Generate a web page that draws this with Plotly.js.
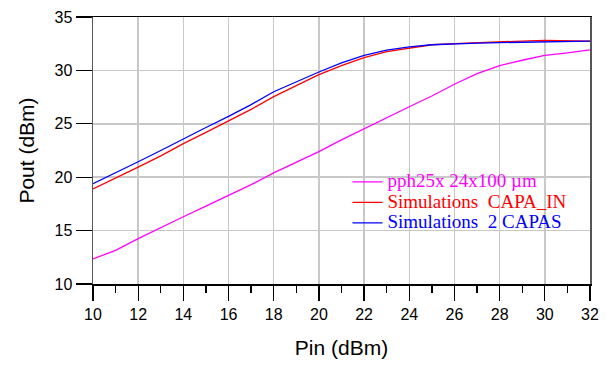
<!DOCTYPE html>
<html>
<head>
<meta charset="utf-8">
<script src="https://cdn.plot.ly/plotly-3.0.1.min.js"></script>
<style>html,body{margin:0;padding:0;background:#fff;}#chart{width:607px;height:365px;}</style>
</head>
<body>
<div id="chart"></div>
<script>
const pin = [10,11,12,13,14,15,16,17,18,19,20,21,22,23,24,25,26,27,28,29,30,31,32];
const poutMeasured = [12.35,13.15,14.25,15.3,16.3,17.3,18.3,19.3,20.4,21.4,22.4,23.5,24.55,25.6,26.6,27.6,28.7,29.7,30.45,30.95,31.4,31.65,31.92];
const poutCapaIn   = [18.9,19.9,20.95,22.0,23.15,24.2,25.25,26.35,27.55,28.6,29.6,30.45,31.2,31.75,32.1,32.4,32.5,32.6,32.7,32.75,32.8,32.75,32.75];
const pout2Capas   = [19.4,20.4,21.45,22.5,23.6,24.65,25.7,26.8,28.0,28.95,29.85,30.7,31.4,31.9,32.2,32.4,32.5,32.55,32.6,32.65,32.7,32.72,32.75];
const names = ['pph25x 24x100 µm', 'Simulations\u00a0\u00a0CAPA_IN', 'Simulations\u00a0\u00a02 CAPAS'];
const colors = ['#ff00ff', '#ff0000', '#0000ff'];
const series = [poutMeasured, poutCapaIn, pout2Capas];
const xTicks = [10,12,14,16,18,20,22,24,26,28,30,32];
const yTicks = [10,15,20,25,30,35];

const traces = series.map((ys, i) => ({
  x: pin, y: ys, type: 'scatter', mode: 'lines',
  name: '<span style="color:' + colors[i] + ';font-size:19px">' + names[i] + '</span>',
  line: {color: colors[i], width: 1.3}
}));

const layout = {
  width: 607, height: 365,
  margin: {l: 93, r: 17, t: 17, b: 81},
  paper_bgcolor: '#fff', plot_bgcolor: '#fff',
  showlegend: true,
  legend: {
    x: 0.512, y: 0.44, xanchor: 'left', yanchor: 'top',
    bgcolor: 'rgba(0,0,0,0)',
    font: {family: 'Liberation Serif, Times New Roman, serif', size: 13.5},
    tracegroupgap: 0, itemwidth: 30
  },
  xaxis: {
    range: [10, 32], tickvals: xTicks, ticktext: xTicks.map(String),
    showgrid: true, gridcolor: '#c8c8c8', gridwidth: 1.5,
    showline: true, linecolor: '#000', linewidth: 1.5, mirror: true,
    ticks: 'outside', ticklen: 15, tickcolor: '#000', tickwidth: 1.3,
    minor: {dtick: 1, tick0: 10, ticks: 'outside', ticklen: 7, tickcolor: '#000', tickwidth: 1.3, showgrid: false},
    tickfont: {family: 'Liberation Sans, Arial, sans-serif', size: 16, color: '#000'},
    title: {text: 'Pin (dBm)', font: {family: 'Liberation Sans, Arial, sans-serif', size: 21, color: '#000'}, standoff: 18},
    zeroline: false
  },
  yaxis: {
    range: [10, 35], tickvals: yTicks, ticktext: yTicks.map(String),
    showgrid: true, gridcolor: '#c8c8c8', gridwidth: 1.5,
    showline: true, linecolor: '#555', linewidth: 1.5, mirror: true,
    ticks: 'outside', ticklen: 16, tickcolor: '#000', tickwidth: 1.3,
    tickfont: {family: 'Liberation Sans, Arial, sans-serif', size: 16, color: '#000'},
    title: {text: 'Pout (dBm)', font: {family: 'Liberation Sans, Arial, sans-serif', size: 21, color: '#000'}, standoff: 14},
    zeroline: false
  }
};

Plotly.newPlot('chart', traces, layout, {staticPlot: true, displayModeBar: false});
</script>
</body>
</html>
